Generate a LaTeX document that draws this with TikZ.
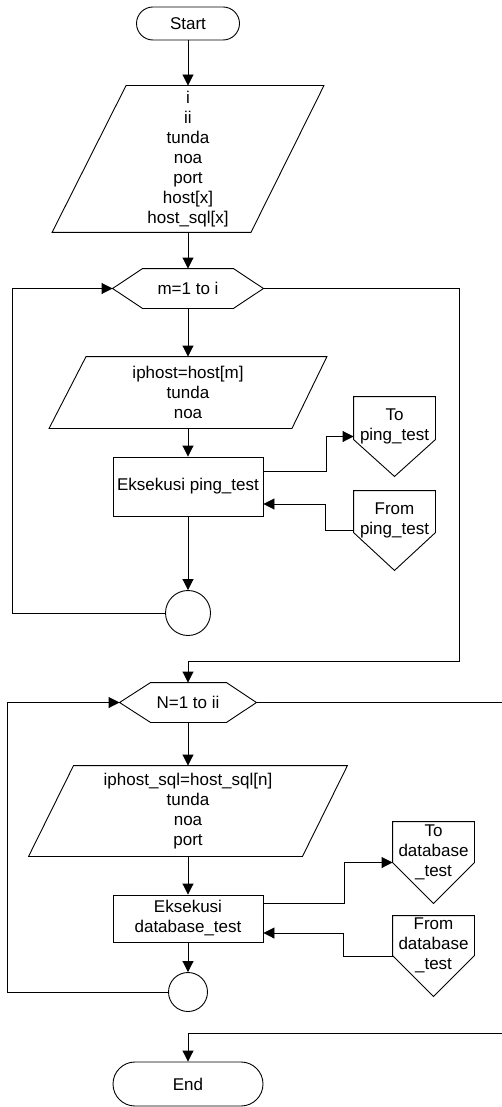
\documentclass[tikz,border=0pt]{standalone}
\usepackage{fontspec}
\setmainfont{Liberation Sans}
\usetikzlibrary{arrows.meta,calc}
\begin{document}
\begin{tikzpicture}[x=1pt,y=-1pt,line width=0.9pt,
  txt/.style={inner sep=0pt,align=center,font=\fontsize{17}{20}\selectfont},
  frame/.style={txt,draw=none,rectangle},
  term/.style={txt,draw,rectangle,minimum width=#1},
  procbox/.style={txt,draw,rectangle,minimum width=150pt},
  joint/.style={draw,circle,inner sep=0pt},
  arr/.style={-{Triangle[length=11pt,width=11pt]}},
  outline/.style={draw,line join=miter}]
\useasboundingbox (0,0) rectangle (502,1107);

% ---- first loop ----
\node[term=103pt,minimum height=33pt,rounded corners=16.5pt] (start) at (188,23.5) {Start};

\node[frame,minimum width=271pt,minimum height=146pt] (in1) at (188,159)
  {i\\ii\\tunda\\noa\\port\\host[x]\\host\_sql[x]};
\draw[outline] ($(in1.north west)+(74,0)$) -- (in1.north east)
  -- ($(in1.south east)+(-73,0)$) -- (in1.south west) -- cycle;

\node[frame,minimum width=150pt,minimum height=39pt] (h1) at (188,288.5) {m=1 to i};
\draw[outline] (h1.west) -- ($(h1.north west)+(30,0)$) -- ($(h1.north east)+(-30,0)$)
  -- (h1.east) -- ($(h1.south east)+(-30,0)$) -- ($(h1.south west)+(30,0)$) -- cycle;

\node[frame,minimum width=277pt,minimum height=71pt] (in2) at (188,392.5)
  {iphost=host[m]\\tunda\\noa};
\draw[outline] ($(in2.north west)+(37,0)$) -- (in2.north east)
  -- ($(in2.south east)+(-35,0)$) -- (in2.south west) -- cycle;

\node[procbox,minimum height=59pt] (p1) at (188,486.5) {Eksekusi ping\_test};

\node[frame,minimum width=81pt,minimum height=79pt] (to1) at (394.5,436.5) {};
\draw[outline] (to1.north west) -- (to1.north east) -- ($(to1.north east)+(0,43)$)
  -- (to1.south) -- ($(to1.north west)+(0,43)$) -- cycle;
\node[txt] (to1t) at (394.5,426) {To\\ping\_test};

\node[frame,minimum width=81pt,minimum height=79pt] (from1) at (394.5,530.5) {};
\draw[outline] (from1.north west) -- (from1.north east) -- ($(from1.north east)+(0,42)$)
  -- (from1.south) -- ($(from1.north west)+(0,42)$) -- cycle;
\node[txt] (from1t) at (394.5,520) {From\\ping\_test};

\node[joint,minimum size=45pt] (c1) at (188,613) {};

% ---- second loop ----
\node[frame,minimum width=136pt,minimum height=39pt] (h2) at (188,702.5) {N=1 to ii};
\draw[outline] (h2.west) -- ($(h2.north west)+(31,0)$) -- ($(h2.north east)+(-30,0)$)
  -- (h2.east) -- ($(h2.south east)+(-30,0)$) -- ($(h2.south west)+(31,0)$) -- cycle;

\node[frame,minimum width=318pt,minimum height=90pt] (in3) at (188,811)
  {iphost\_sql=host\_sql[n]\\tunda\\noa\\port};
\draw[outline] ($(in3.north west)+(45,0)$) -- (in3.north east)
  -- ($(in3.south east)+(-45,0)$) -- (in3.south west) -- cycle;

\node[procbox,minimum height=47pt] (p2) at (188,918.5) {Eksekusi\\database\_test};

\node[frame,minimum width=81pt,minimum height=81pt] (to2) at (433.5,862.5) {};
\draw[outline] (to2.north west) -- (to2.north east) -- ($(to2.north east)+(0,41)$)
  -- (to2.south) -- ($(to2.north west)+(0,41)$) -- cycle;
\node[txt] (to2t) at (433.5,852) {To\\database\\\_test};

\node[frame,minimum width=81pt,minimum height=80pt] (from2) at (433.5,956) {};
\draw[outline] (from2.north west) -- (from2.north east) -- ($(from2.north east)+(0,40)$)
  -- (from2.south) -- ($(from2.north west)+(0,40)$) -- cycle;
\node[txt] (from2t) at (433.5,945) {From\\database\\\_test};

\node[joint,minimum size=39pt] (c2) at (188,992) {};

\node[term=150pt,minimum height=44pt,rounded corners=22pt] (end) at (188,1084) {End};

\coordinate (outR) at (502,702.5);
\coordinate (inR) at (502,1033);

% ---- connectors ----
\draw[arr] (start) -- (in1.north);
\draw[arr] (in1.south) -- (h1.north);
\draw[arr] (h1.south) -- (in2.north);
\draw[arr] (in2.south) -- (p1.north);
\draw[arr] (p1.south) -- (c1.north);
\draw[arr] ([yshift=15.5pt]p1.east) -- ++(63,0) |- (to1.west);
\draw[arr] (from1.west) -- ++(-28,0) |- ([yshift=-17.5pt]p1.east);
\draw[arr] (c1.west) -- ++(-153,0) |- (h1.west);
\draw[arr] (h1.east) -- ++(196,0) -- ++(0,372.5) -| (h2.north);

\draw[arr] (h2.south) -- (in3.north);
\draw[arr] (in3.south) -- (p2.north);
\draw[arr] (p2.south) -- (c2.north);
\draw[arr] ([yshift=15.5pt]p2.east) -- ++(81,0) |- (to2.west);
\draw[arr] (from2.west) -- ++(-49,0) |- ([yshift=-14.5pt]p2.east);
\draw[arr] (c2.west) -- ++(-161,0) |- (h2.west);
\draw (h2.east) -- (outR);
\draw[arr] (inR) -| (end.north);
\end{tikzpicture}
\end{document}
